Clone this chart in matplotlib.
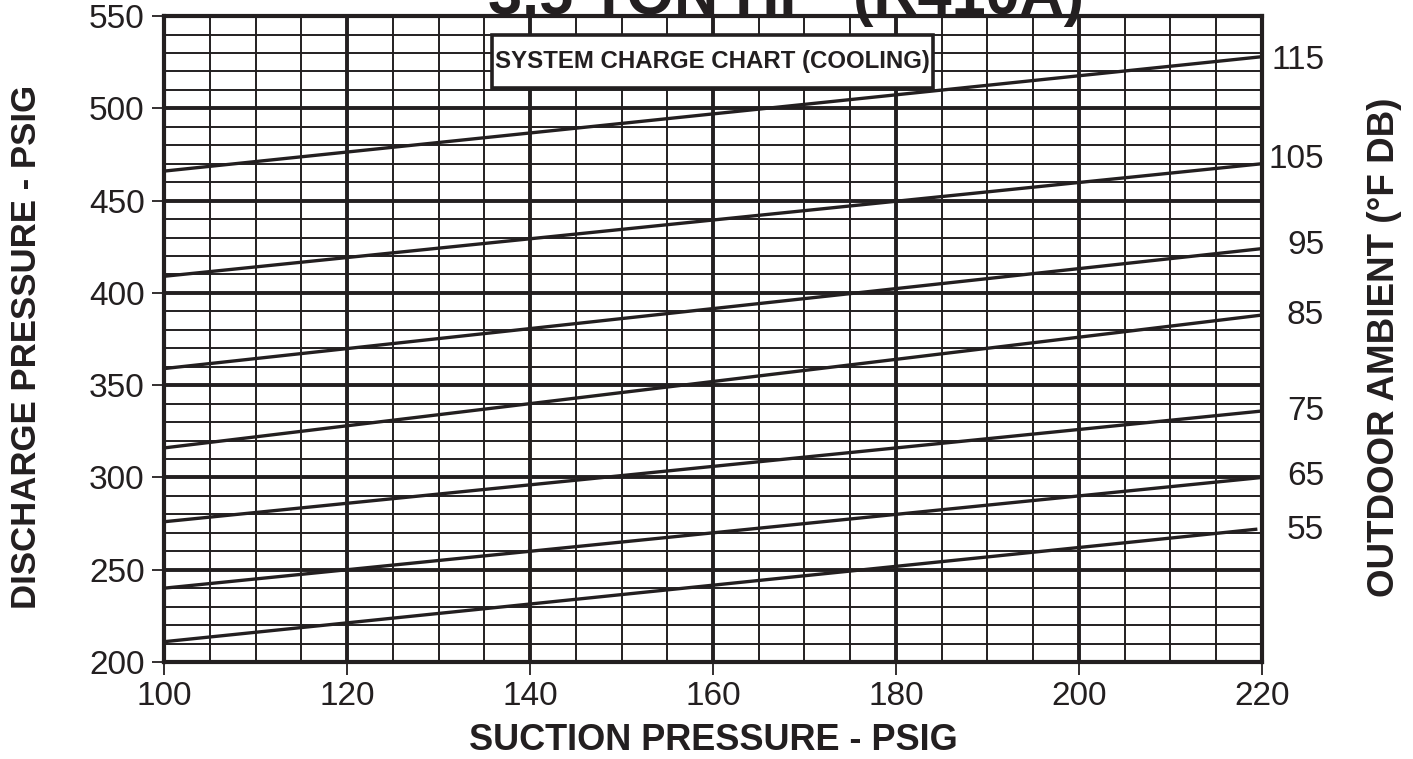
import numpy as np
import matplotlib
matplotlib.use("Agg")
import matplotlib.pyplot as plt
from matplotlib.patches import Rectangle

plt.rcParams['font.family'] = ['Liberation Sans', 'DejaVu Sans']

# suction pressure at both ends of each ambient line (psig)
ambients = [115, 105, 95, 85, 75, 65, 55]
discharge_at_100 = [466, 409, 359, 316, 276, 240, 211]
discharge_at_220 = [528, 470, 424, 388, 336, 300, 272]
label_y = [526, 472.5, 425.5, 388, 335.5, 300.5, 271]

x_ticks = [100, 120, 140, 160, 180, 200, 220]
y_ticks = [200, 250, 300, 350, 400, 450, 500, 550]

ink = '#231f20'

fig = plt.figure(figsize=(14.13, 7.59), dpi=100)
ax = fig.add_axes([0.1161, 0.1278, 0.777, 0.851])
ax.set_xlim(100, 220)
ax.set_ylim(200, 550)

# grid: every 5 psig suction, every 10 psig discharge, heavier on the majors
for xv in np.arange(100, 221, 5):
    lw = 2.8 if xv % 20 == 0 else 1.4
    ax.axvline(xv, color=ink, lw=lw, zorder=1)
for yv in np.arange(200, 551, 10):
    lw = 2.8 if yv % 50 == 0 else 1.4
    ax.axhline(yv, color=ink, lw=lw, zorder=1)

for amb, y0, y1 in zip(ambients, discharge_at_100, discharge_at_220):
    x_end = 219.5 if amb == 55 else 220
    ax.plot([100, x_end], [y0, y1], color=ink, lw=2.4, zorder=3,
            solid_capstyle='butt')

for amb, ly in zip(ambients, label_y):
    ax.text(226.8, ly, str(amb), fontsize=24, va='center', ha='right',
            color=ink, clip_on=False)

for sp in ax.spines.values():
    sp.set_linewidth(3)
    sp.set_color(ink)
    sp.set_zorder(4)

ax.set_xticks(x_ticks)
ax.set_yticks(y_ticks)
ax.tick_params(direction='out', length=9, width=1.3, labelsize=24,
               colors=ink, pad=5)

ax.set_xlabel('SUCTION PRESSURE - PSIG', fontsize=26, fontweight='bold',
              color=ink, va='baseline')
ax.xaxis.set_label_coords(0.5, -0.1365)
ax.set_ylabel('DISCHARGE PRESSURE - PSIG', fontsize=25, fontweight='bold',
              color=ink, va='center')
ax.yaxis.set_label_coords(-0.125, 0.488)

fig.text(0.980, 0.543, 'OUTDOOR AMBIENT (°F DB)', rotation=90, fontsize=26.5,
         fontweight='bold', color=ink, ha='center', va='center')

# boxed caption inside the plot area
ax.add_patch(Rectangle((0.2987, 0.8885), 0.4017, 0.0821, transform=ax.transAxes,
                       facecolor='white', edgecolor=ink, lw=2.6, zorder=5))
ax.text(0.4995, 0.9295, 'SYSTEM CHARGE CHART (COOLING)', transform=ax.transAxes,
        fontsize=17.3, fontweight='bold', ha='center', va='center',
        color=ink, zorder=6)

fig.text(0.556, 0.982, '3.5 TON HP  (R410A)', fontsize=44, fontweight='bold',
         ha='center', va='baseline', color=ink)

fig.savefig('out.png', dpi=100, facecolor='white')
